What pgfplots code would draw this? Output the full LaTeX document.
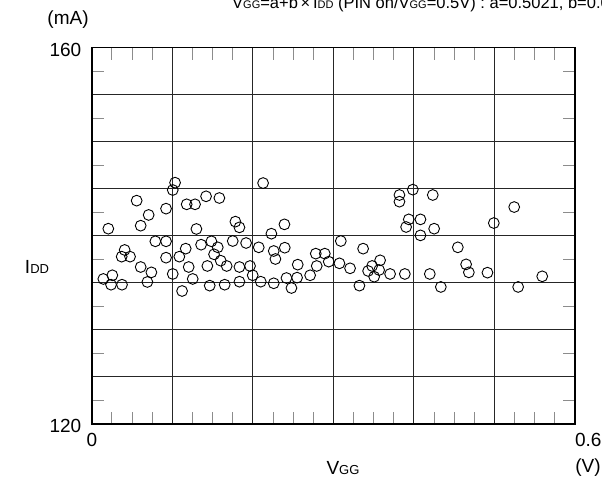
\documentclass[border=0pt]{standalone}
\usepackage{pgfplots}
\pgfplotsset{compat=1.18}
\usepackage{pgfplotstable}
\usepackage{fontspec}
\setmainfont{Liberation Sans}

\newcommand{\lblfont}{\fontsize{19}{21}\selectfont}
\newcommand{\sub}[1]{{\fontsize{13}{15}\selectfont #1}}
\newcommand{\tsub}[1]{{\fontsize{11}{13}\selectfont #1}}

% V_GG (V) vs I_DD (mA)
\pgfplotstableread{
v I
0.1034 145.64
0.1005 144.86
0.2127 145.60
0.0557 143.73
0.0922 142.88
0.0706 142.21
0.1178 143.34
0.1282 143.34
0.1419 144.19
0.1584 144.01
0.0205 140.75
0.0607 141.07
0.1299 140.72
0.1783 141.50
0.1833 140.89
0.2230 140.22
0.2392 141.21
0.0789 139.41
0.0922 139.41
0.1166 138.63
0.1357 139.05
0.1485 139.41
0.1564 138.77
0.1518 138.03
0.1750 139.44
0.1916 139.23
0.2073 138.77
0.2259 138.38
0.2280 137.53
0.2396 138.73
0.3092 139.44
0.0408 138.49
0.0371 137.78
0.0475 137.78
0.0922 137.67
0.1087 137.78
0.1601 137.35
0.1675 136.79
0.0607 136.68
0.0740 136.11
0.1203 136.68
0.1435 136.79
0.1833 136.68
0.1965 136.79
0.1998 135.80
0.1005 135.94
0.1253 135.41
0.0143 135.41
0.0255 135.80
0.0239 134.80
0.0375 134.80
0.0690 135.09
0.1121 134.13
0.1464 134.70
0.1650 134.80
0.1833 135.12
0.2098 135.12
0.2259 134.95
0.2417 135.51
0.2479 134.45
0.2557 136.93
0.2549 135.55
0.2711 135.80
0.2781 138.10
0.2793 136.79
0.2893 138.10
0.2942 137.25
0.3075 137.07
0.3207 136.54
0.3986 144.90
0.3820 144.33
0.3820 143.62
0.4234 144.33
0.5245 143.05
0.3936 141.74
0.4081 141.74
0.3903 140.93
0.4251 140.75
0.4081 140.04
0.4992 141.35
0.3369 138.63
0.4545 138.77
0.3580 137.39
0.3481 136.79
0.3431 136.26
0.3568 136.36
0.3506 135.65
0.3704 135.94
0.3887 135.94
0.4197 135.94
0.4648 136.96
0.4682 136.11
0.4913 136.08
0.5593 135.69
0.3323 134.70
0.4334 134.56
0.5294 134.56
}\idddata

\begin{document}
\begin{tikzpicture}
\useasboundingbox (0pt,0pt) rectangle (602pt,485pt);
\begin{axis}[
  at={(91.8pt,61pt)}, anchor=south west,
  scale only axis, width=483.2pt, height=376.5pt,
  xmin=0, xmax=0.6, ymin=120, ymax=160,
  xtick={0,0.1,0.2,0.3,0.4,0.5,0.6},
  xticklabels={0,,,,,,\rlap{0.6}},
  ytick={120,125,130,135,140,145,150,155,160},
  yticklabels={120,,,,,,,,160},
  minor x tick num=3,
  minor y tick num=1,
  tick align=inside,
  xtick pos=both, ytick pos=both,
  major tick length=0pt,
  minor tick length=12pt,
  minor tick style={black!45, line width=1pt},
  grid=major,
  major grid style={black!85, line width=0.9pt},
  axis line style={line width=1.8pt},
  tick label style={font=\lblfont},
  xticklabel style={yshift=-6pt},
  yticklabel style={xshift=-7pt, yshift=-2pt},
  /pgf/number format/assume math mode=true,
  clip=false,
]
\addplot[only marks, mark=o, mark size=5.4pt, mark options={line width=0.9pt, black}]
  table[x=v, y=I] {\idddata};
\end{axis}
\node[font=\lblfont] at (68pt,465pt) {(mA)};
\node[font=\lblfont] at (37pt,218pt) {I\sub{DD}};
\node[font=\lblfont] at (343pt,17pt) {V\sub{GG}};
\node[font=\lblfont] at (588pt,17pt) {(V)};
\node[font=\fontsize{16.5}{18}\selectfont, anchor=base west, inner sep=0pt] at (232pt,476pt)
  {V\tsub{GG}=a+b\,×\,I\tsub{DD} (PIN on/V\tsub{GG}=0.5V) : a=0.5021, b=0.0056};
\end{tikzpicture}
\end{document}
